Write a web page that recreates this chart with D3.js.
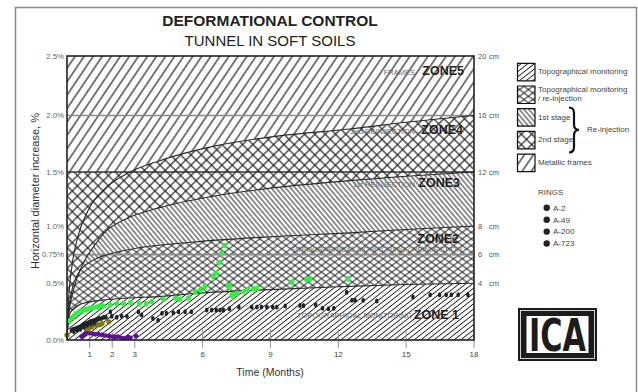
<!DOCTYPE html>
<html>
<head>
<meta charset="utf-8">
<script src="https://cdn.jsdelivr.net/npm/d3@7"></script>
<style>
  body { margin: 0; background: #fff; }
  text { font-family: "Liberation Sans", Arial, sans-serif; }
</style>
</head>
<body>
<svg id="chart" width="638" height="392"></svg>
<script>
// ---- data ----
const monthTicks = [1, 2, 3, 6, 9, 12, 15, 18];
const pctTicks = [0, 0.5, 0.75, 1, 1.5, 2, 2.5];
const pctLabels = ["0.0%", "0.5%", "0.75%", "1.0%", "1.5%", "2.0%", "2.5%"];
const cmTicks = [0.5, 0.75, 1, 1.5, 2, 2.5];
const cmLabels = ["4", "6", "8", "12", "16", "20"];
const guideLevels = [2.0, 1.5, 0.75];

// zone boundary curves [months, %]
const curveZone1 = [[0,0],[0.03,0.12],[0.1,0.22],[0.3,0.28],[0.66,0.32],[1.55,0.35],[2.7,0.37],[4.2,0.385],[5.6,0.41],[8.5,0.44],[12,0.47],[15,0.49],[18,0.5]];
const curveZone2 = [[0,0],[0.05,0.2],[0.2,0.42],[0.45,0.57],[1.15,0.7],[2.65,0.79],[5.6,0.86],[9.4,0.91],[12.5,0.94],[15,0.97],[18,1.0]];
const curveZone3 = [[0,0],[0.07,0.2],[0.3,0.45],[0.66,0.65],[1.25,0.84],[1.6,0.93],[2.65,1.07],[4.1,1.17],[6.3,1.27],[9.4,1.36],[12.5,1.42],[15,1.46],[18,1.5]];
const curveZone4 = [[0,0],[0.07,0.35],[0.22,0.65],[0.5,0.92],[1.0,1.17],[1.7,1.35],[2.7,1.49],[4.1,1.6],[6.3,1.72],[9.4,1.82],[12.5,1.88],[15,1.94],[18,2.0]];

// rings [months, %]
const ringA2 = [[0.65,0.03],[0.75,0.045],[0.85,0.065],[1.0,0.06],[1.15,0.055],[1.25,0.05],[1.4,0.05],[1.55,0.045],[1.7,0.04],[1.85,0.035],[2.0,0.03],[2.1,0.025],[2.25,0.03],[2.4,0.02],[2.55,0.015],[2.7,0.025],[2.8,0.02],[3.05,0.035]];
const ringA49 = [[0.0,0.045],[0.85,0.1],[0.95,0.1],[1.1,0.115],[1.3,0.13],[1.45,0.135],[1.55,0.145],[1.85,0.16]];
const ringA200 = [[0.2,0.085],[0.28,0.095],[0.36,0.1],[0.44,0.105],[0.52,0.11],[0.6,0.12],[0.68,0.13],[0.76,0.14],[0.84,0.145],[0.92,0.15],[1.0,0.16],[1.08,0.165],[1.16,0.17],[1.24,0.175],[1.32,0.18],[1.42,0.19],[1.52,0.19],[1.62,0.2],[1.72,0.2],
  [0.3,0.075],[0.45,0.085],[0.6,0.095],[0.75,0.115],[0.9,0.13],[1.05,0.14],[1.2,0.15],
  [1.92,0.25],[1.98,0.21],[2.2,0.2],[2.42,0.21],[2.65,0.21],[3.16,0.25],[3.3,0.22],[3.8,0.19],[4.03,0.175],[4.2,0.235],[4.4,0.235],[4.7,0.24],[4.93,0.25],[5.22,0.25],[5.5,0.25],
  [6.18,0.265],[6.4,0.265],[6.6,0.265],[6.77,0.265],[6.92,0.265],[7.18,0.275],[7.6,0.29],[8.17,0.29],[8.4,0.29],[8.6,0.29],[8.84,0.29],[9.1,0.29],[9.28,0.29],
  [9.65,0.3],[10.3,0.305],[10.46,0.305],[11.0,0.31],[11.3,0.28],[11.56,0.275],[11.8,0.28],[12.37,0.42],[12.6,0.35],[12.74,0.35],[13.1,0.35],[13.7,0.345],
  [15.3,0.38],[16.06,0.4],[16.48,0.4],[16.77,0.4],[17.0,0.4],[17.3,0.4],[17.73,0.4]];
const ringA723 = [[0.13,0.17],[0.25,0.2],[0.4,0.23],[0.55,0.25],[0.7,0.26],[0.85,0.27],[1.0,0.28],[1.15,0.285],[1.3,0.29],[1.45,0.3],[1.6,0.3],[1.9,0.31],[2.2,0.32],[2.5,0.32],[2.8,0.33],[3.2,0.32],[3.5,0.32],[3.75,0.34],[4.25,0.36],[4.8,0.37],[5.0,0.36],[5.37,0.37],
  [5.66,0.42],[5.9,0.44],[6.1,0.475],[6.47,0.56],[6.6,0.59],[6.72,0.68],[6.84,0.76],[6.97,0.83],[7.14,0.48],[7.2,0.47],[7.3,0.4],[7.36,0.38],[7.5,0.41],[7.8,0.425],[8.0,0.445],[8.24,0.45],[8.4,0.455],
  [9.95,0.51],[10.6,0.53],[10.75,0.54],[12.4,0.54]];

const zoneNames = ["ZONE 1", "ZONE2", "ZONE3", "ZONE4", "ZONE5"];
const zoneNotes = ["TOPOGRAPHICAL MONITORING", "TOPOGRAPHICAL MONITORING / REINJECTION", "1st REINJECTION", "2nd REINJECTION", "FRAMES"];
const legendLabels = [["Topographical monitoring"], ["Topographical monitoring", " / re-injection"], ["1st stage"], ["2nd stage"], ["Metallic frames"]];
const ringNames = ["A-2", "A-49", "A-200", "A-723"];

// ---- setup ----
const svg = d3.select("#chart");
const x = d3.scaleLinear().domain([0, 18]).range([67, 474]);
const y = d3.scaleLinear().domain([0, 0.5, 1, 1.5, 2, 2.5]).range([340, 283.3, 226, 172, 115.5, 56]);

// outer frame
svg.append("rect").attr("x", 15.5).attr("y", 7.5).attr("width", 621).attr("height", 400)
  .attr("fill", "none").attr("stroke", "#8a8a8a").attr("stroke-width", 1.5);

// titles
svg.append("text").attr("x", 270).attr("y", 26).attr("text-anchor", "middle")
  .attr("font-size", 15.5).attr("font-weight", "bold").attr("fill", "#222").text("DEFORMATIONAL CONTROL");
svg.append("text").attr("x", 270).attr("y", 46).attr("text-anchor", "middle")
  .attr("font-size", 15).attr("fill", "#222").text("TUNNEL IN SOFT SOILS");

// hatch patterns
const defs = svg.append("defs");
function hatch(id, angle, spacing, width) {
  const rot = Math.sign(angle) * (90 - Math.abs(angle));
  const p = defs.append("pattern").attr("id", id)
    .attr("patternUnits", "userSpaceOnUse")
    .attr("width", spacing).attr("height", spacing)
    .attr("patternTransform", "rotate(" + rot + ")");
  p.append("line").attr("x1", spacing / 2).attr("y1", 0).attr("x2", spacing / 2).attr("y2", spacing)
    .attr("stroke", "#1a1a1a").attr("stroke-width", width);
}
hatch("z5a", 56, 7.5, 1.15);
hatch("z4a", 45, 7.3, 1.15);
hatch("z4b", -45, 7.3, 1.15);
hatch("z3a", -50, 3.7, 0.95);
hatch("z2a", 37, 5.3, 0.95);
hatch("z2b", -37, 5.3, 0.95);
hatch("z1a", 38, 4.1, 0.9);
const zonePatterns = [["z1a"], ["z2a", "z2b"], ["z3a"], ["z4a", "z4b"], ["z5a"]];

defs.append("clipPath").attr("id", "plotclip").append("rect")
  .attr("x", 67).attr("y", 56).attr("width", 407).attr("height", 284);

const plot = svg.append("g").attr("clip-path", "url(#plotclip)");

function fillShape(d, pats) {
  plot.append("path").attr("d", d).attr("fill", "#fff");
  pats.forEach(p => plot.append("path").attr("d", d).attr("fill", "url(#" + p + ")"));
}
const areaBelow = d3.area().x(d => x(d[0])).y0(y(0)).y1(d => y(d[1])).curve(d3.curveMonotoneX);
const rectPath = (v0, v1) => "M" + x(0) + "," + y(v1) + "H" + x(18) + "V" + y(v0) + "H" + x(0) + "Z";

fillShape(rectPath(0, 2.5), zonePatterns[4]);
fillShape(areaBelow(curveZone4), zonePatterns[3]);
fillShape(rectPath(0, 1.5), zonePatterns[3]);
fillShape(areaBelow(curveZone3), zonePatterns[2]);
fillShape(areaBelow(curveZone2), zonePatterns[1]);
fillShape(areaBelow(curveZone1), zonePatterns[0]);

// guide lines
guideLevels.forEach(v => {
  plot.append("line").attr("x1", x(0)).attr("x2", x(18)).attr("y1", y(v)).attr("y2", y(v))
    .attr("stroke", v === 1.5 ? "#333" : "#8c8c8c").attr("stroke-width", 1.6);
});

// zone curves
const line = d3.line().x(d => x(d[0])).y(d => y(d[1])).curve(d3.curveMonotoneX);
[curveZone1, curveZone2, curveZone3, curveZone4].forEach(c => {
  plot.append("path").attr("d", line(c)).attr("fill", "none").attr("stroke", "#2a2a2a").attr("stroke-width", 1.1);
});

// zone labels
const zoneLayout = [
  { nx: 459, ny: 319, tx: 412, ty: 318 },
  { nx: 459, ny: 243, tx: 462, ty: 252 },
  { nx: 460, ny: 187, tx: 415, ty: 187 },
  { nx: 463, ny: 134, tx: 415, ty: 134 },
  { nx: 464, ny: 75, tx: 415, ty: 75 }
];
zoneNames.forEach((n, i) => {
  const L = zoneLayout[i];
  svg.append("text").attr("x", L.tx).attr("y", L.ty).attr("text-anchor", "end")
    .attr("font-size", 7.5).attr("fill", "#6a6a6a").text(zoneNotes[i]);
  svg.append("text").attr("x", L.nx).attr("y", L.ny).attr("text-anchor", "end")
    .attr("font-size", 12.5).attr("font-weight", "bold").attr("fill", "#222").text(n);
});

// x ticks (grey marks)
monthTicks.forEach(m => {
  svg.append("line").attr("x1", x(m)).attr("x2", x(m)).attr("y1", 329).attr("y2", 348)
    .attr("stroke", "#9a9a9a").attr("stroke-width", 1);
});

// ring points
const rings = [
  { data: ringA2, color: "#5e1190", rx: 2.5, ry: 2.3 },
  { data: ringA49, color: "#7f7a00", rx: 2.6, ry: 2.6 },
  { data: ringA200, color: "#1f242a", rx: 1.8, ry: 2.5 },
  { data: ringA723, color: "#2ef23e", rx: 2.5, ry: 2.8 }
];
rings.forEach(r => {
  svg.append("g").selectAll("ellipse").data(r.data).join("ellipse")
    .attr("cx", d => x(d[0])).attr("cy", d => y(d[1]))
    .attr("rx", r.rx).attr("ry", r.ry).attr("fill", r.color);
});

// plot frame
svg.append("rect").attr("x", 67).attr("y", 56).attr("width", 407).attr("height", 284)
  .attr("fill", "none").attr("stroke", "#222").attr("stroke-width", 1.6);

// left axis labels
pctTicks.forEach((v, i) => {
  svg.append("text").attr("x", 64).attr("y", y(v)).attr("dy", "0.35em").attr("text-anchor", "end")
    .attr("font-size", 7.8).attr("fill", "#666").text(pctLabels[i]);
});
// right axis labels
cmTicks.forEach((v, i) => {
  svg.append("text").attr("x", 478).attr("y", y(v)).attr("dy", "0.35em")
    .attr("font-size", 7.5).attr("fill", "#555").text(cmLabels[i]);
  svg.append("text").attr("x", 489).attr("y", y(v)).attr("dy", "0.35em")
    .attr("font-size", 7.5).attr("fill", "#555").text("cm");
});
// bottom labels
monthTicks.forEach(m => {
  svg.append("text").attr("x", x(m)).attr("y", 357).attr("text-anchor", "middle")
    .attr("font-size", 8).attr("fill", "#444").text(m);
});
svg.append("text").attr("x", 270).attr("y", 376).attr("text-anchor", "middle")
  .attr("font-size", 10.5).attr("fill", "#333").text("Time (Months)");
svg.append("text").attr("transform", "translate(39,191) rotate(-90)").attr("text-anchor", "middle")
  .attr("font-size", 11).attr("fill", "#333").text("Horizontal diameter increase, %");

// legend swatches
const leg = svg.append("g");
legendLabels.forEach((lab, i) => {
  const sy = 63.3 + i * 22.7;
  const sw = "M517.5," + sy + "h17.5v17.5h-17.5Z";
  leg.append("path").attr("d", sw).attr("fill", "#fff");
  zonePatterns[i].forEach(p => leg.append("path").attr("d", sw).attr("fill", "url(#" + p + ")"));
  leg.append("path").attr("d", sw).attr("fill", "none").attr("stroke", "#111").attr("stroke-width", 1.2);
  lab.forEach((t, j) => {
    leg.append("text").attr("x", 538).attr("y", sy + (lab.length > 1 ? 6 + j * 9 : 11))
      .attr("font-size", 8).attr("fill", "#444").text(t);
  });
});
// brace for re-injection
leg.append("path")
  .attr("d", "M569,107.5 Q574,107.5 574,113 L574,124.5 Q574,130 579,130 Q574,130 574,135.5 L574,147 Q574,152.5 569,152.5")
  .attr("fill", "none").attr("stroke", "#111").attr("stroke-width", 2.2);
leg.append("text").attr("x", 587).attr("y", 132).attr("font-size", 8).attr("fill", "#444").text("Re-injection");

// rings legend
leg.append("text").attr("x", 538).attr("y", 195).attr("font-size", 8).attr("fill", "#444").text("RINGS");
ringNames.forEach((n, i) => {
  const cy = 207.8 + i * 11.9;
  leg.append("circle").attr("cx", 546.7).attr("cy", cy).attr("r", 3.2).attr("fill", "#222");
  leg.append("text").attr("x", 553).attr("y", cy).attr("dy", "0.35em").attr("font-size", 8).attr("fill", "#444").text(n);
});

// ICA logo
const logo = svg.append("g");
logo.append("rect").attr("x", 518).attr("y", 308).attr("width", 79).attr("height", 53).attr("fill", "#1c1c1c");
logo.append("rect").attr("x", 520.5).attr("y", 310.5).attr("width", 74).attr("height", 48)
  .attr("fill", "none").attr("stroke", "#fff").attr("stroke-width", 0.8);
logo.append("rect").attr("x", 526.5).attr("y", 316).attr("width", 62).attr("height", 37).attr("fill", "#fff");
logo.append("text").attr("x", 529).attr("y", 351).attr("font-size", 44).attr("font-weight", "bold")
  .attr("textLength", 57).attr("lengthAdjust", "spacingAndGlyphs")
  .style("font-family", "'DejaVu Sans Condensed','DejaVu Sans',sans-serif").attr("fill", "#1c1c1c").text("ICA");
</script>
</body>
</html>
